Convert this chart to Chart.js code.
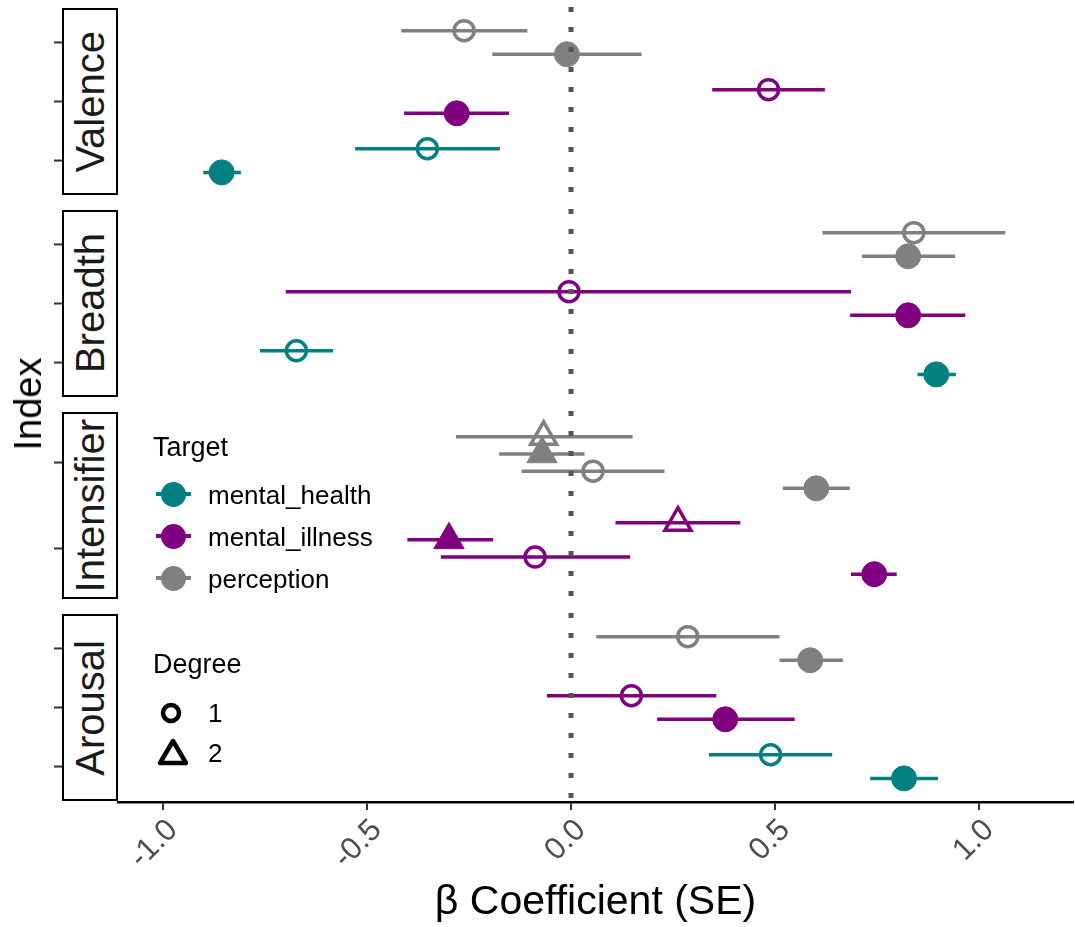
<!DOCTYPE html>
<html>
<head>
<meta charset="utf-8">
<script src="https://cdn.jsdelivr.net/npm/chart.js@4.4.1/dist/chart.umd.min.js"></script>
<style>
  html, body { margin: 0; padding: 0; background: #fff; }
  #wrap { position: relative; width: 1075px; height: 927px; overflow: hidden; font-family: "Liberation Sans", Arial, sans-serif; }
  .panel { position: absolute; left: 0; width: 1075px; }
  .strip { position: absolute; left: 62px; width: 56px; box-sizing: border-box; border: 2.5px solid #000; background: #fff;
           display: flex; align-items: center; justify-content: center; }
  .strip span { writing-mode: vertical-rl; transform: rotate(180deg); font-size: 40px; color: #1a1a1a; line-height: 1; white-space: nowrap; }
  .txt { position: absolute; white-space: nowrap; line-height: 1; color: #000; }
</style>
</head>
<body>
<div id="wrap"></div>
<script>
// facets, targets, ticks
const panelNames = ['Valence', 'Breadth', 'Intensifier', 'Arousal'];
const targetOrder = ['perception', 'mental_illness', 'mental_health']; // top to bottom in each facet
const legendTargets = ['mental_health', 'mental_illness', 'perception'];
const targetColors = { mental_health: '#008080', mental_illness: '#800080', perception: '#808080' };
const degreeLevels = [1, 2];
const xTicks = [-1.0, -0.5, 0.0, 0.5, 1.0];

// one entry per estimate (dodge order within a target: degree 2 before 1, open before filled)
const rowPanel  = [0,0,0,0,0,0, 1,1,1,1,1,1, 2,2,2,2,2,2,2,2, 3,3,3,3,3,3];
const rowTarget = ['perception','perception','mental_illness','mental_illness','mental_health','mental_health',
                   'perception','perception','mental_illness','mental_illness','mental_health','mental_health',
                   'perception','perception','perception','perception','mental_illness','mental_illness','mental_illness','mental_illness',
                   'perception','perception','mental_illness','mental_illness','mental_health','mental_health'];
const rowDegree = [1,1,1,1,1,1, 1,1,1,1,1,1, 2,2,1,1,2,2,1,1, 1,1,1,1,1,1];
const rowFilled = [0,1,0,1,0,1, 0,1,0,1,0,1, 0,1,0,1,0,1,0,1, 0,1,0,1,0,1];
const rowEst = [-0.262,-0.010, 0.484,-0.280,-0.352,-0.856,
                 0.840, 0.826,-0.005, 0.826,-0.673, 0.895,
                -0.067,-0.071, 0.054, 0.601, 0.262,-0.299,-0.088, 0.743,
                 0.286, 0.586, 0.148, 0.378, 0.489, 0.816];
const rowLo  = [-0.416,-0.193, 0.346,-0.409,-0.529,-0.901,
                 0.616, 0.713,-0.699, 0.684,-0.762, 0.849,
                -0.282,-0.176,-0.121, 0.519, 0.109,-0.401,-0.319, 0.686,
                 0.062, 0.511,-0.059, 0.211, 0.338, 0.733];
const rowHi  = [-0.107, 0.173, 0.622,-0.152,-0.174,-0.809,
                 1.064, 0.941, 0.686, 0.966,-0.583, 0.943,
                 0.151, 0.033, 0.229, 0.683, 0.415,-0.191, 0.145, 0.798,
                 0.511, 0.666, 0.356, 0.548, 0.640, 0.899];

const xMin = -1.11, xMax = 1.23;
const panelTops = [7, 209, 411, 613];
const panelH = 189;
const axisH = 125;
const FONT = '"Liberation Sans", Arial, sans-serif';

const wrap = document.getElementById('wrap');

// little tick marks on the far side of the strip
const yTickMarks = {
  id: 'yTickMarks',
  afterDraw(chart, args, opts) {
    const ys = chart.scales.y;
    const ctx = chart.ctx;
    ctx.save();
    ctx.strokeStyle = '#333';
    ctx.lineWidth = 2;
    for (let k = 1; k <= opts.count; k++) {
      const py = ys.getPixelForValue(k);
      ctx.beginPath();
      ctx.moveTo(54, py);
      ctx.lineTo(62, py);
      ctx.stroke();
    }
    ctx.restore();
  }
};

function makePanel(p) {
  const last = p === panelNames.length - 1;
  const idx = rowPanel.map((v, i) => v === p ? i : -1).filter(i => i >= 0);
  const cats = targetOrder.filter(t => idx.some(i => rowTarget[i] === t));

  const yOf = {};
  cats.forEach((t, c) => {
    const grp = idx.filter(i => rowTarget[i] === t);
    grp.forEach((i, k) => { yOf[i] = c + 1 - 0.4 + 0.8 * (k + 0.5) / grp.length; });
  });

  const points = idx.map(i => {
    const col = targetColors[rowTarget[i]];
    const tri = rowDegree[i] === 2;
    const filled = rowFilled[i] === 1;
    return {
      data: [{ x: rowEst[i], y: yOf[i] }],
      pointStyle: tri ? 'triangle' : 'circle',
      pointRadius: filled ? (tri ? 17.5 : 12.5) : (tri ? 15 : 10),
      pointBorderWidth: filled ? 1 : 3.5,
      pointBackgroundColor: filled ? col : 'rgba(0,0,0,0)',
      pointBorderColor: col,
      clip: false
    };
  });
  const bars = idx.map(i => ({
    data: [{ x: rowLo[i], y: yOf[i] }, { x: rowHi[i], y: yOf[i] }],
    showLine: true,
    borderColor: targetColors[rowTarget[i]],
    borderWidth: 3.5,
    pointRadius: 0,
    clip: false
  }));
  const zero = {
    data: [{ x: 0, y: 0.4 }, { x: 0, y: cats.length + 0.6 }],
    showLine: true,
    borderColor: '#555555',
    borderWidth: 5,
    borderDash: [5, 15],
    borderCapStyle: 'butt',
    pointRadius: 0,
    clip: false
  };

  const box = document.createElement('div');
  box.className = 'panel';
  box.style.top = panelTops[p] + 'px';
  box.style.height = (panelH + (last ? axisH : 0)) + 'px';
  const cv = document.createElement('canvas');
  box.appendChild(cv);
  wrap.appendChild(box);

  const xAxis = {
    type: 'linear',
    min: xMin,
    max: xMax,
    display: last,
    afterBuildTicks: s => { s.ticks = xTicks.map(v => ({ value: v })); }
  };
  if (last) {
    Object.assign(xAxis, {
      afterFit: s => { s.height = axisH; },
      ticks: {
        callback: v => v.toFixed(1),
        font: { family: FONT, size: 31 },
        color: '#4d4d4d',
        minRotation: 45,
        maxRotation: 45,
        autoSkip: false,
        padding: 2,
        labelOffset: 10
      },
      grid: { drawOnChartArea: false, drawTicks: true, tickLength: 8, color: '#333', lineWidth: 2 },
      border: { display: true, color: '#000', width: 2.5 },
      title: {
        display: true,
        text: 'β Coefficient (SE)',
        font: { family: FONT, size: 41 },
        color: '#000',
        padding: { top: 0, bottom: 0 }
      }
    });
  }

  new Chart(cv, {
    type: 'scatter',
    data: { datasets: [zero, ...points, ...bars] },
    options: {
      animation: false,
      responsive: true,
      maintainAspectRatio: false,
      layout: { autoPadding: false, padding: { left: 118, right: 2, top: 0, bottom: 0 } },
      plugins: {
        legend: { display: false },
        tooltip: { enabled: false },
        yTickMarks: { count: cats.length }
      },
      scales: {
        x: xAxis,
        y: { type: 'linear', min: 0.4, max: cats.length + 0.6, reverse: true, display: false }
      }
    },
    plugins: [yTickMarks]
  });

  const strip = document.createElement('div');
  strip.className = 'strip';
  strip.style.top = (panelTops[p] + 1) + 'px';
  strip.style.height = (panelH - 2) + 'px';
  strip.innerHTML = '<span>' + panelNames[p] + '</span>';
  wrap.appendChild(strip);
}

panelNames.forEach((n, p) => makePanel(p));

function addText(str, left, top, size, css) {
  const d = document.createElement('div');
  d.className = 'txt';
  d.textContent = str;
  d.style.left = left + 'px';
  d.style.top = top + 'px';
  d.style.fontSize = size + 'px';
  if (css) Object.assign(d.style, css);
  wrap.appendChild(d);
  return d;
}

// y axis title
addText('Index', 28, 404, 38, { transform: 'translate(-50%,-50%) rotate(-90deg)' });

// legend: Target
addText('Target', 153, 434, 27);
legendTargets.forEach((t, k) => {
  const cy = 494 + k * 42;
  const line = document.createElement('div');
  Object.assign(line.style, { position: 'absolute', left: '156px', width: '35px', top: (cy - 2) + 'px', height: '4px', background: targetColors[t] });
  wrap.appendChild(line);
  const dot = document.createElement('div');
  Object.assign(dot.style, { position: 'absolute', left: (173 - 12.5) + 'px', top: (cy - 12.5) + 'px', width: '25px', height: '25px', borderRadius: '50%', background: targetColors[t] });
  wrap.appendChild(dot);
  addText(t, 208, cy + 10 - 22, 26);
});

// legend: Degree
addText('Degree', 153, 651, 27);
degreeLevels.forEach((d, k) => {
  const cy = 713 + k * 40;
  const svg = document.createElementNS('http://www.w3.org/2000/svg', 'svg');
  svg.setAttribute('width', '40');
  svg.setAttribute('height', '40');
  Object.assign(svg.style, { position: 'absolute', left: '152px', top: (cy - 20) + 'px' });
  let shape;
  if (d === 1) {
    shape = document.createElementNS('http://www.w3.org/2000/svg', 'circle');
    shape.setAttribute('cx', '19');
    shape.setAttribute('cy', '20');
    shape.setAttribute('r', '8');
  } else {
    shape = document.createElementNS('http://www.w3.org/2000/svg', 'polygon');
    shape.setAttribute('points', '21,8 34,30 8,30');
    shape.setAttribute('stroke-linejoin', 'round');
  }
  shape.setAttribute('fill', 'none');
  shape.setAttribute('stroke', '#000');
  shape.setAttribute('stroke-width', '4.5');
  svg.appendChild(shape);
  wrap.appendChild(svg);
  addText(String(d), 208, cy + 9 - 22, 26);
});
</script>
</body>
</html>
